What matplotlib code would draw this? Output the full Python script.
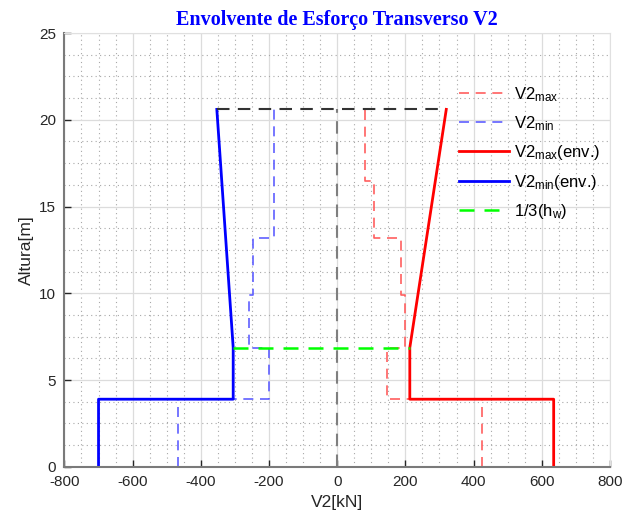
import numpy as np
import matplotlib
matplotlib.use("Agg")
import matplotlib.pyplot as plt
from matplotlib.ticker import MultipleLocator

# -----------------------------
# DATA
# -----------------------------
levels = [0, 3.9, 6.87, 9.9, 13.2, 16.5, 20.6]       # storey levels [m]
v2_max = [425, 145, 198, 186, 108, 83]                 # per storey [kN]
v2_min = [-468, -200, -260, -248, -186, -186]

env_h = [0, 3.9, 3.9, 6.87, 20.6]
env_max = [635, 635, 213, 213, 320]
env_min = [-700, -700, -305, -305, -353]

h_w = 20.6

# step paths
step_y = np.repeat(levels, 2)[1:-1]
max_x = np.repeat(v2_max, 2)
min_x = np.repeat(v2_min, 2)

# -----------------------------
# PLOT
# -----------------------------
plt.rcParams["font.family"] = ["Liberation Sans", "DejaVu Sans"]
plt.rcParams["axes.unicode_minus"] = False
plt.rcParams["mathtext.fontset"] = "custom"
plt.rcParams["mathtext.rm"] = "Liberation Sans"
plt.rcParams["mathtext.default"] = "regular"

fig = plt.figure(figsize=(6.38, 5.24), dpi=100)
ax = fig.add_axes([0.101, 0.109, 0.855, 0.828])

dash = (6, 4)
ax.plot(max_x, step_y, color="#ff5f5f", lw=1.2, dashes=dash, label="V2$_{max}$")
ax.plot(min_x, step_y, color="#5f5fff", lw=1.2, dashes=dash, label="V2$_{min}$")
ax.plot(env_max, env_h, color="#ff0000", lw=2.0, label="V2$_{max}$(env.)")
ax.plot(env_min, env_h, color="#0000ff", lw=2.0, label="V2$_{min}$(env.)")

y3 = h_w / 3
ax.plot([env_min[-2], env_max[-2]], [y3, y3], color="#00ff00", lw=1.8,
        dashes=dash, label="1/3(h$_{w}$)")
ax.plot([env_min[-1], env_max[-1]], [h_w, h_w], color="#333333", lw=1.5,
        dashes=dash)
ax.plot([0, 0], [0, h_w], color="#7f7f7f", lw=1.5, dashes=dash)

ax.set_xlim(-800, 800)
ax.set_ylim(0, 25)
ax.xaxis.set_major_locator(MultipleLocator(200))
ax.xaxis.set_minor_locator(MultipleLocator(50))
ax.yaxis.set_major_locator(MultipleLocator(5))
ax.yaxis.set_minor_locator(MultipleLocator(1.25))
ax.grid(True, which="major", color="#dcdcdc", lw=0.9)
ax.grid(True, which="minor", color="#a8a8a8", lw=0.8, ls=(0, (1, 3)))
ax.set_axisbelow(True)

ax.tick_params(which="major", direction="in", length=5, width=1,
               labelsize=11, colors="#262626", pad=6)
ax.tick_params(which="minor", length=0)
for side in ["left", "bottom"]:
    ax.spines[side].set_color("#7a7a7a")
    ax.spines[side].set_linewidth(1.5)
for side in ["top", "right"]:
    ax.spines[side].set_color("#e0e0e0")
    ax.spines[side].set_linewidth(0.8)

ax.set_xlabel("V2[kN]", fontsize=12.5, color="#262626", labelpad=4)
ax.set_ylabel("Altura[m]", fontsize=12.5, color="#262626", labelpad=4)
ax.set_title("Envolvente de Esforço Transverso V2", fontsize=14.5,
             fontweight="bold", family="Liberation Serif", color="#0000ff", pad=6)

ax.legend(loc="upper left", bbox_to_anchor=(0.712, 0.895), frameon=False,
          fontsize=12, handlelength=3.0, handletextpad=0.3, labelspacing=0.62,
          borderaxespad=0)

fig.savefig("out.png", dpi=100)
plt.close(fig)
